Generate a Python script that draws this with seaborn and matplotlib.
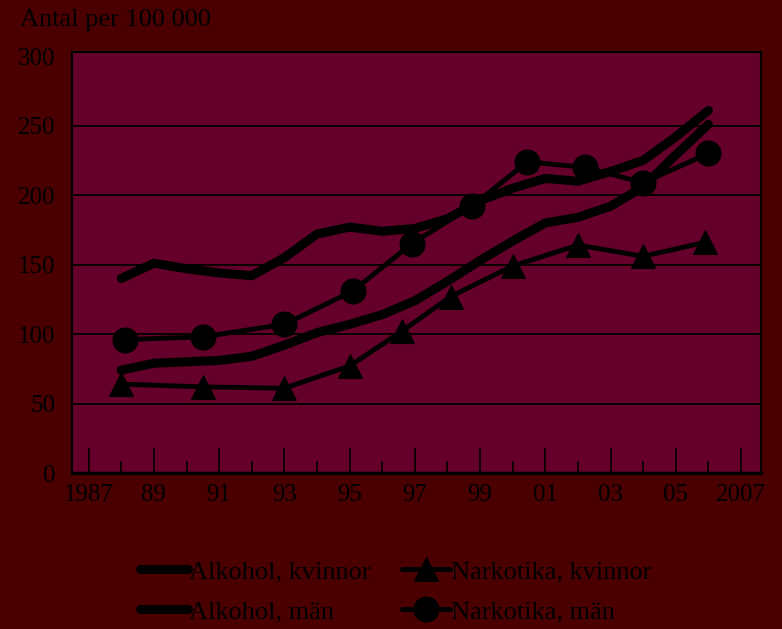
import matplotlib
matplotlib.use("Agg")
import matplotlib.pyplot as plt
import seaborn as sns
from matplotlib.ticker import FixedLocator, NullFormatter

# Annual alcohol series, 1988-2006
alk_years = list(range(1988, 2007))
alk_kvinnor = [74, 79, 80, 81, 84, 92, 101, 107, 114, 124, 138, 153, 167, 180,
               184, 192, 206, 229, 251]
alk_man = [140, 151, 147, 144, 142, 155, 172, 177, 174, 176, 183, 196, 205, 212,
           210, 217, 225, 242, 261]

# Drug series (plotted at the mid-points of their reporting periods)
nark_kv_years = [1988.0, 1990.5, 1993.0, 1995.0, 1996.6, 1998.1, 2000.0, 2002.0, 2004.0, 2005.9]
nark_kvinnor = [64, 62, 61, 77, 102, 127, 149, 164, 156, 166]
nark_man_years = [1988.1, 1990.5, 1993.0, 1995.1, 1996.9, 1998.75, 2000.45, 2002.2, 2004.0, 2006.0]
nark_man = [96, 98, 107, 131, 165, 192, 224, 220, 209, 230]

major_years = list(range(1987, 2008, 2))
major_labels = ["1987", "89", "91", "93", "95", "97", "99", "01", "03", "05", "2007"]
minor_years = list(range(1988, 2007, 2))
y_ticks = [0, 50, 100, 150, 200, 250, 300]
y_title = "Antal per 100 000"

fig_bg = "#4a0000"
ax_bg = "#640029"
ink = "black"

sns.set_theme(style="white")
plt.rcParams["font.family"] = ["Liberation Serif", "DejaVu Serif"]

W, H = 782, 629
fig = plt.figure(figsize=(W / 100, H / 100), dpi=100, facecolor=fig_bg)
ax = fig.add_axes([72 / W, 1 - 473 / H, (761 - 72) / W, (473 - 52) / H])
ax.set_facecolor(ax_bg)

# Horizontal reference lines
for yv in y_ticks[1:-1]:
    ax.axhline(yv, color=ink, lw=1.3, zorder=1)

sns.lineplot(x=alk_years, y=alk_kvinnor, ax=ax, color=ink, lw=6.5,
             solid_joinstyle="round", solid_capstyle="round",
             label="Alkohol, kvinnor", zorder=3)
sns.lineplot(x=alk_years, y=alk_man, ax=ax, color=ink, lw=6.5,
             solid_joinstyle="round", solid_capstyle="round",
             label="Alkohol, män", zorder=3)
sns.lineplot(x=nark_kv_years, y=nark_kvinnor, ax=ax, color=ink, lw=3.5,
             marker="^", markersize=17, markeredgecolor=ink, markerfacecolor=ink,
             label="Narkotika, kvinnor", zorder=4)
sns.lineplot(x=nark_man_years, y=nark_man, ax=ax, color=ink, lw=3.5,
             marker="o", markersize=18, markeredgecolor=ink, markerfacecolor=ink,
             label="Narkotika, män", zorder=4)

ax.set_xlim(1986.49, 2007.61)
ax.set_ylim(0, 303)
ax.set_xlabel("")
ax.set_ylabel("")

ax.xaxis.set_major_locator(FixedLocator(major_years))
ax.set_xticklabels(major_labels)
ax.xaxis.set_minor_locator(FixedLocator(minor_years))
ax.xaxis.set_minor_formatter(NullFormatter())
ax.tick_params(axis="x", which="major", direction="in", length=18, width=1.2,
               color=ink, labelsize=18, labelcolor=ink, pad=8, bottom=True)
ax.tick_params(axis="x", which="minor", direction="in", length=9, width=1.2,
               color=ink, bottom=True)
ax.set_yticks(y_ticks)
ax.tick_params(axis="y", length=0, labelsize=18, labelcolor=ink, pad=12)

for side in ["left", "right", "top", "bottom"]:
    ax.spines[side].set_visible(True)
    ax.spines[side].set_color(ink)
    ax.spines[side].set_linewidth(1.5)
ax.spines["bottom"].set_linewidth(2.5)

fig.text(20 / W, 1 - 20 / H, y_title, fontsize=19, color=ink, ha="left", va="center")

handles, labels = ax.get_legend_handles_labels()
ax.get_legend().remove()
leg = fig.legend(handles, labels, ncol=2, loc="upper left",
                 bbox_to_anchor=(140 / W, 1 - 560 / H), frameon=False,
                 fontsize=19, handlelength=1.8, handletextpad=0.05,
                 columnspacing=1.2, labelspacing=0.62, borderpad=0,
                 borderaxespad=0)
for t in leg.get_texts():
    t.set_color(ink)

fig.savefig("out.png", dpi=100, facecolor=fig_bg)
